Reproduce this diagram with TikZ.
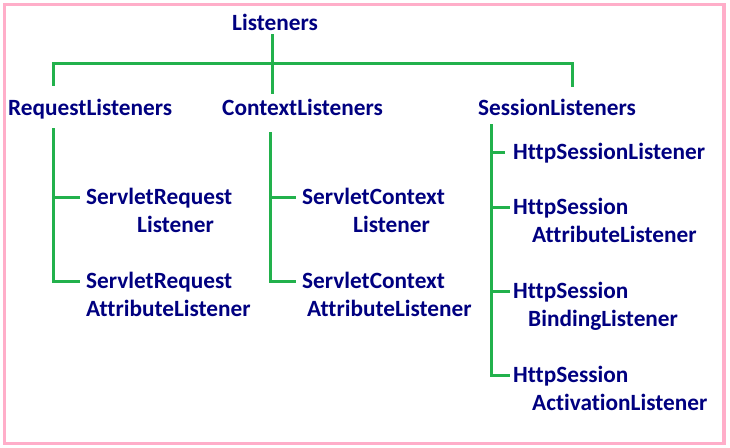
\documentclass[tikz,border=0pt]{standalone}
\usepackage{fontspec}
\setmainfont{Carlito}[Ligatures={NoCommon}]
\usepackage{xcolor}
\usepackage{tikz}
\definecolor{navytext}{HTML}{000080}
\definecolor{linegreen}{HTML}{22B14C}
\definecolor{framepink}{HTML}{FFAEC9}

\begin{document}
\begin{tikzpicture}[
  x=1pt, y=-1pt,
  every node/.style={font=\fontsize{23.3}{27}\selectfont\bfseries, text=navytext,
    inner sep=0pt, text height=14pt, text depth=0pt, anchor=base west},
  link/.style={draw=linegreen, line width=3pt}
]
\useasboundingbox (0,0) rectangle (730,447);

% Frame
\draw[framepink, line width=3.5pt] (4.5,4.5) rectangle (724,443.5);

% Root
\node (root) at (232,30) {Listeners};

% Categories
\node (req) at (8,115) {RequestListeners};
\node (ctx) at (222,115) {ContextListeners};
\node (ses) at (478,115) {SessionListeners};

% Request listeners
\node (rq1) at (86,204) {ServletRequest};
\node (rq1b) at (137,232) {Listener};
\node (rq2) at (86,288) {ServletRequest};
\node (rq2b) at (86,316) {AttributeListener};

% Context listeners
\node (cx1) at (302,204) {ServletContext};
\node (cx1b) at (353,232) {Listener};
\node (cx2) at (302,288) {ServletContext};
\node (cx2b) at (307,316) {AttributeListener};

% Session listeners
\node (hs1) at (513,159) {HttpSessionListener};
\node (hs2) at (513,214) {HttpSession};
\node (hs2b) at (532,242) {AttributeListener};
\node (hs3) at (513,298) {HttpSession};
\node (hs3b) at (528,326) {BindingListener};
\node (hs4) at (513,382) {HttpSession};
\node (hs4b) at (532,410) {ActivationListener};

% Top bar
\coordinate (hub) at (272,63);
\coordinate (dropL) at (53,63);
\coordinate (dropR) at (572,63);
\draw[link, shorten <=4pt] (root.south -| hub) -- (hub);
\draw[link, shorten >=15pt] (hub) -- (dropL) -- (dropL |- req.north);
\draw[link, shorten >=7pt] (hub) -- (hub |- ctx.north);
\draw[link, shorten >=14pt] (hub) -- (dropR) -- (dropR |- ses.north);

% Spines
\coordinate (spL) at (53,128);
\coordinate (spC) at (270,132);
\coordinate (spR) at (491,124);
\draw[link, shorten >=6pt] (spL) |- (rq2.west);
\draw[link, shorten >=6pt] (spL |- rq1.west) -- (rq1.west);
\draw[link, shorten >=6pt] (spC) |- (cx2.west);
\draw[link, shorten >=6pt] (spC |- cx1.west) -- (cx1.west);
\draw[link, shorten >=3pt] (spR) |- (hs4.west);
\draw[link, shorten >=8pt] (spR |- hs1.west) -- (hs1.west);
\draw[link, shorten >=3pt] (spR |- hs2.west) -- (hs2.west);
\draw[link, shorten >=3pt] (spR |- hs3.west) -- (hs3.west);

\end{tikzpicture}
\end{document}
